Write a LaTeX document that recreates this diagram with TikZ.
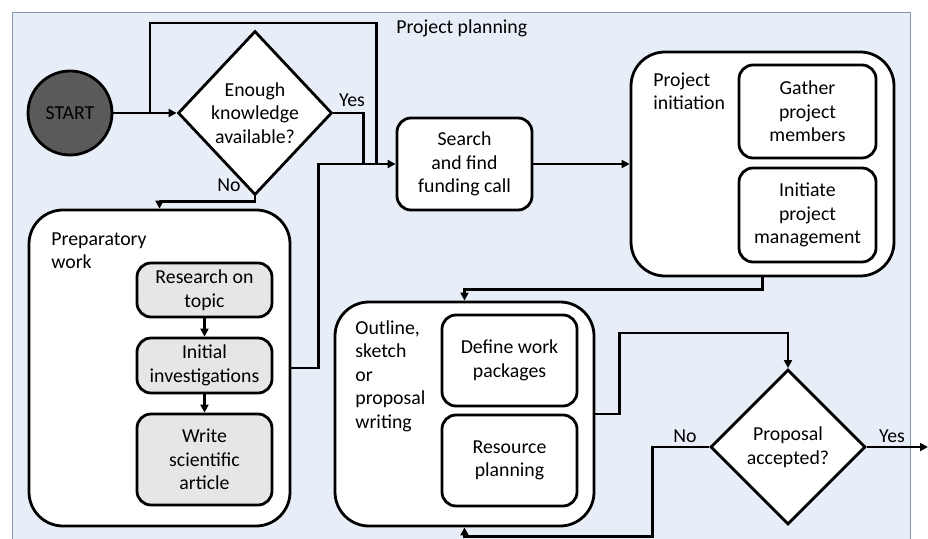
\documentclass[tikz,border=0pt]{standalone}
\usepackage{fontspec}
\setmainfont{Carlito}
\usetikzlibrary{shapes.geometric,arrows.meta}
\definecolor{panelblue}{HTML}{E7EEF8}
\definecolor{panelline}{HTML}{8497B0}
\definecolor{startgray}{HTML}{5A5A5A}
\definecolor{stepgray}{HTML}{E7E6E6}

\begin{document}
\begin{tikzpicture}[x=1pt,y=1pt,line width=2.8pt,
	font=\fontsize{19.8pt}{23.5pt}\selectfont,
	task/.style={draw,rounded corners=14pt,fill=white,align=center,inner sep=0pt},
	group/.style={draw,rounded corners=34pt,fill=white,inner sep=0pt},
	decision/.style={draw,diamond,fill=white,align=center,inner sep=0pt},
	grouptitle/.style={align=left,inner sep=0pt,anchor=north west},
	flow/.style={-{Triangle[length=8pt,width=8pt]}}]
	\useasboundingbox (0,0) rectangle (928,538);
	\filldraw[fill=panelblue,draw=panelline,line width=1pt] (12,-40) rectangle (910,525);
	\node[anchor=west,inner sep=0pt] (planning) at (395,510) {Project planning};

	\node[circle,draw,fill=startgray,minimum size=84pt,inner sep=0pt] (start) at (70,425) {START};
	\node[decision,minimum width=154pt,minimum height=164pt] (know) at (255,425) {Enough\\knowledge\\available?};
	\node[task,minimum width=135pt,minimum height=92pt] (search) at (464.5,374) {Search\\and find\\funding call};

	\node[group,minimum width=263pt,minimum height=224pt] (init) at (762.5,374) {};
	\node[grouptitle] (inittitle) at (652,467) {Project\\initiation};
	\node[task,minimum width=137pt,minimum height=93pt] (gather) at (807.5,426.5) {Gather\\project\\members};
	\node[task,minimum width=137pt,minimum height=94pt] (manage) at (807.5,323) {Initiate\\project\\management};

	\node[group,minimum width=261pt,minimum height=316pt] (prep) at (159.5,170) {};
	\node[grouptitle] (preptitle) at (50,307) {Preparatory\\work};
	\node[task,fill=stepgray,minimum width=135pt,minimum height=54pt] (topic) at (204.5,248) {Research on\\topic};
	\node[task,fill=stepgray,minimum width=135pt,minimum height=55pt] (invest) at (204.5,172.5) {Initial\\investigations};
	\node[task,fill=stepgray,minimum width=135pt,minimum height=91pt] (article) at (204.5,78.5) {Write\\scientific\\article};

	\node[group,minimum width=259pt,minimum height=224pt] (outline) at (464.5,124) {};
	\node[grouptitle] (outlinetitle) at (354,219) {Outline,\\sketch\\or\\proposal\\writing};
	\node[task,minimum width=135pt,minimum height=91pt] (packages) at (509.5,177.5) {Define work\\packages};
	\node[task,minimum width=135pt,minimum height=91pt] (resources) at (509.5,77.5) {Resource\\planning};

	\node[decision,minimum width=155pt,minimum height=155pt] (accept) at (788,91) {Proposal\\accepted?};
	\coordinate (fork) at (150,425);
	\coordinate (done) at (928,91);

	\draw[flow] (start) -- (know);
	\draw (fork) -- ++(0,90) -| ([xshift=-19pt]search.west);
	\draw[flow] (know.east) -- ++(30,0) |- (search.west);
	\draw (prep.east) -- ++(27,0) |- ([xshift=-34pt]search.west);
	\draw[flow] (know.south) -- ++(0,-5) -| (prep.north);
	\draw[flow] (topic) -- (invest);
	\draw[flow] (invest) -- (article);
	\draw[flow] (search) -- (init);
	\draw[flow] (init.south) -- ++(0,-12) -| (outline.north);
	\draw[flow] (outline.east) -- ++(24,0) |- ([yshift=35pt]accept.north) -- (accept.north);
	\draw[flow] (accept.east) -- (done);
	\draw[flow] (accept.west) -- ++(-57,0) |- ([yshift=-9pt]outline.south) -- (outline.south);

	\node (yes1) at (352,438) {Yes};
	\node (no1) at (229,353) {No};
	\node (no2) at (685,102) {No};
	\node (yes2) at (892,102) {Yes};
\end{tikzpicture}
\end{document}
